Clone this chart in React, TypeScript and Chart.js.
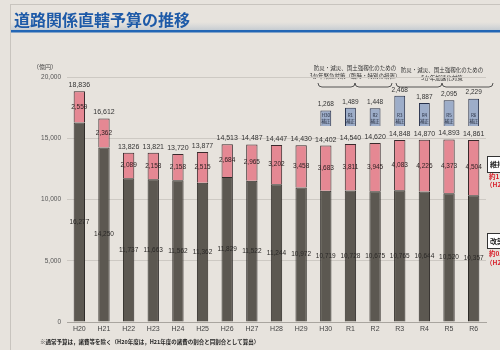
import React, { useEffect, useRef } from 'react';
import { Chart, registerables } from 'chart.js';

Chart.register(...registerables);

const categories = ['H20', 'H21', 'H22', 'H23', 'H24', 'H25', 'H26', 'H27', 'H28', 'H29', 'H30', 'R1', 'R2', 'R3', 'R4', 'R5', 'R6'];
const ordinaryBudget = [16277, 14250, 11737, 11663, 11562, 11362, 11829, 11522, 11244, 10972, 10719, 10728, 10675, 10765, 10644, 10520, 10357];
const maintenanceBudget = [2559, 2362, 2089, 2158, 2158, 2515, 2684, 2965, 3202, 3458, 3683, 3811, 3945, 4083, 4226, 4373, 4504];
const totalBudget = [18836, 16612, 13826, 13821, 13720, 13877, 14513, 14487, 14447, 14430, 14402, 14540, 14620, 14848, 14870, 14893, 14861];
const supplementaryBudget: (number | null)[] = [null, null, null, null, null, null, null, null, null, null, 1268, 1489, 1448, 2468, 1887, 2095, 2229];
const yTicks = [0, 5000, 10000, 15000, 20000];
const SUPP_BASE = 16000;

const JP = '"Noto Sans CJK JP", "Noto Sans", sans-serif';
const SANS = '"Liberation Sans", "DejaVu Sans", sans-serif';
const fmt = (v: number) => v.toLocaleString('en-US');

function brace(ctx: CanvasRenderingContext2D, x1: number, x2: number, y: number, px: number, h: number) {
  ctx.beginPath();
  ctx.moveTo(x1, y - h);
  ctx.quadraticCurveTo(x1, y, x1 + h, y);
  ctx.lineTo(px - h, y);
  ctx.quadraticCurveTo(px, y, px, y - h);
  ctx.quadraticCurveTo(px, y, px + h, y);
  ctx.lineTo(x2 - h, y);
  ctx.quadraticCurveTo(x2, y, x2, y - h);
  ctx.stroke();
}

const backgroundPlugin = {
  id: 'bgDecor',
  beforeDraw(chart: any) {
    const ctx: CanvasRenderingContext2D = chart.ctx;
    const W = chart.width;
    const H = chart.height;
    ctx.save();
    ctx.fillStyle = '#e7e3dd';
    ctx.fillRect(0, 0, W, H);
    // slide frame
    ctx.strokeStyle = '#c8c4be';
    ctx.lineWidth = 1;
    ctx.beginPath();
    ctx.moveTo(10.5, 4);
    ctx.lineTo(10.5, H);
    ctx.moveTo(10, 4.5);
    ctx.lineTo(W, 4.5);
    ctx.stroke();
    // title band
    const g = ctx.createLinearGradient(0, 22, 0, 31);
    g.addColorStop(0, 'rgba(180,192,205,0)');
    g.addColorStop(1, 'rgba(160,178,198,0.55)');
    ctx.fillStyle = g;
    ctx.fillRect(11, 22, W - 11, 9);
    ctx.fillStyle = '#1d5aa8';
    ctx.font = 'bold 16px ' + JP;
    ctx.textBaseline = 'middle';
    ctx.textAlign = 'left';
    ctx.fillText('道路関係直轄予算の推移', 14, 20);
    ctx.fillStyle = '#2366b5';
    ctx.fillRect(11, 30, W - 11, 2.5);
    // unit
    ctx.fillStyle = '#444';
    ctx.font = '6px ' + JP;
    ctx.textAlign = 'center';
    ctx.fillText('（億円）', 45, 67);
    // braces and notes
    ctx.fillStyle = '#333';
    ctx.font = '5.5px ' + JP;
    ctx.fillText('防災・減災、国土強靱化のための', 355, 68);
    ctx.fillText('3か年緊急対策（臨時・特別の措置）', 355, 75.5);
    ctx.fillText('防災・減災、国土強靱化のための', 442, 70);
    ctx.fillText('5か年加速化対策', 442, 77.5);
    ctx.strokeStyle = '#444';
    ctx.lineWidth = 0.9;
    brace(ctx, 318, 392, 87, 355, 4);
    brace(ctx, 396, 493, 87, 442, 4);
    // right side boxes
    ctx.fillStyle = '#ffffff';
    ctx.strokeStyle = '#333';
    ctx.lineWidth = 1;
    ctx.fillRect(487.5, 156.5, 20, 16);
    ctx.strokeRect(487.5, 156.5, 20, 16);
    ctx.fillRect(487.5, 233.5, 20, 15);
    ctx.strokeRect(487.5, 233.5, 20, 15);
    ctx.fillStyle = '#222';
    ctx.font = 'bold 7px ' + JP;
    ctx.textAlign = 'left';
    ctx.fillText('維持管理', 490, 164.5);
    ctx.fillText('改築費', 490, 241);
    ctx.fillStyle = '#d8202a';
    ctx.font = 'bold 6.5px ' + JP;
    ctx.fillText('約1', 489, 177);
    ctx.fillText('（H2', 486, 185);
    ctx.fillText('約0.6～', 489, 254);
    ctx.fillText('（H20', 486, 263);
    // footnote
    ctx.fillStyle = '#222';
    ctx.font = 'bold 5.5px ' + JP;
    ctx.fillText('※通常予算は，諸費等を除く（H20年度は，H21年度の諸費の割合と同割合として算出）', 40, 342);
    ctx.restore();
  },
};

const labelPlugin = {
  id: 'barLabels',
  afterDatasetsDraw(chart: any) {
    const ctx: CanvasRenderingContext2D = chart.ctx;
    const m0 = chart.getDatasetMeta(0);
    const m1 = chart.getDatasetMeta(1);
    const m2 = chart.getDatasetMeta(2);
    ctx.save();
    ctx.textAlign = 'center';
    ctx.textBaseline = 'middle';
    categories.forEach((cat, i) => {
      const g = m0.data[i];
      const p = m1.data[i];
      ctx.font = '6.5px ' + SANS;
      ctx.fillStyle = '#2a2826';
      ctx.fillText(fmt(ordinaryBudget[i]), g.x, (g.y + g.base) / 2);
      ctx.fillStyle = '#2a1f20';
      ctx.fillText(fmt(maintenanceBudget[i]), p.x, (p.y + p.base) / 2);
      ctx.fillStyle = '#333';
      ctx.font = '7px ' + SANS;
      ctx.fillText(fmt(totalBudget[i]), p.x, Math.min(p.y, p.base) - 6);
      const s = supplementaryBudget[i];
      if (s != null) {
        const b = m2.data[i];
        ctx.font = '6.5px ' + SANS;
        ctx.fillStyle = '#333';
        ctx.fillText(fmt(s), b.x, b.y - 6);
        ctx.fillStyle = '#1e2435';
        ctx.font = '4.5px ' + JP;
        ctx.fillText(cat, b.x, b.base - 11);
        ctx.fillText('補正', b.x, b.base - 5);
      }
    });
    ctx.restore();
  },
};

export default function App() {
  const ref = useRef<HTMLCanvasElement>(null);
  useEffect(() => {
    document.body.style.margin = '0';
    document.body.style.background = '#e7e3dd';
    const canvas = ref.current;
    if (!canvas) return;
    const chart = new Chart(canvas, {
      type: 'bar',
      data: {
        labels: categories,
        datasets: [
          {
            label: '通常予算',
            data: ordinaryBudget,
            backgroundColor: '#5c5851',
            borderColor: '#2e2b28',
            borderWidth: 1,
            barPercentage: 0.46,
            categoryPercentage: 1,
          },
          {
            label: '維持管理',
            data: ordinaryBudget.map((v, i) => [v, totalBudget[i]]) as any,
            backgroundColor: '#e58893',
            borderColor: '#3a2a2c',
            borderWidth: 1,
            barPercentage: 0.46,
            categoryPercentage: 1,
          },
          {
            label: '補正',
            data: supplementaryBudget.map((v) => (v == null ? null : [SUPP_BASE, SUPP_BASE + v])) as any,
            backgroundColor: '#9dadc9',
            borderColor: '#26304a',
            borderWidth: 1,
            barPercentage: 0.44,
            categoryPercentage: 1,
          },
        ],
      },
      options: {
        animation: false,
        responsive: false,
        layout: { padding: { top: 77, right: 14, left: 5, bottom: 0 } },
        plugins: { legend: { display: false }, tooltip: { enabled: false } },
        scales: {
          x: {
            stacked: true,
            grid: { display: false, drawTicks: false },
            border: { display: true, color: '#a9a59f' },
            ticks: { font: { size: 7, family: SANS }, color: '#444', padding: 3, maxRotation: 0, autoSkip: false },
            afterFit: (s: any) => { s.height = 28; },
          },
          y: {
            stacked: false,
            min: 0,
            max: 20000,
            afterBuildTicks: (s: any) => { s.ticks = yTicks.map((v) => ({ value: v })); },
            ticks: { callback: (v: any) => fmt(Number(v)), font: { size: 6.5, family: SANS }, color: '#555', padding: 6 },
            grid: { color: '#cdc9c3', drawTicks: false },
            border: { display: false },
            afterFit: (s: any) => { s.width = 62; },
          },
        },
      } as any,
      plugins: [backgroundPlugin, labelPlugin],
    });
    return () => chart.destroy();
  }, []);
  return (
    <div style={{ position: 'absolute', left: 0, top: 0, width: 500, height: 350 }}>
      <canvas ref={ref} width={500} height={350} style={{ width: 500, height: 350, display: 'block' }} />
    </div>
  );
}
